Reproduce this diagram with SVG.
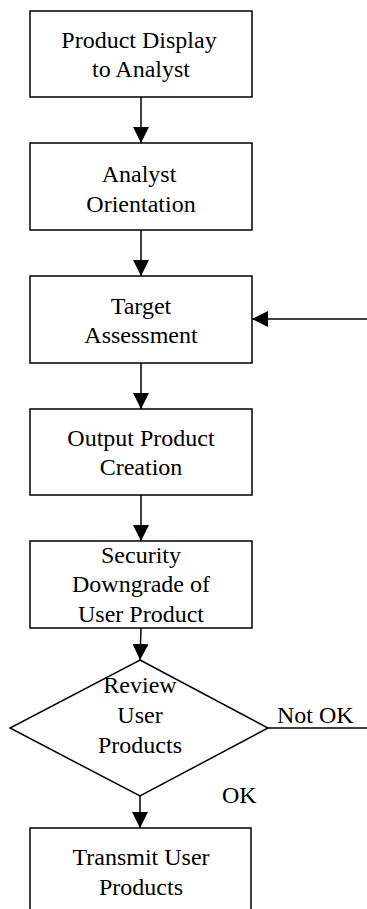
<svg xmlns="http://www.w3.org/2000/svg" width="367" height="909" viewBox="0 0 367 909">
<style>
.n{fill:#fff;stroke:#000;stroke-width:1.5}
.t{font-family:"Liberation Serif","Times New Roman",serif;font-size:24px;fill:#000;text-anchor:middle}
.l{font-family:"Liberation Serif","Times New Roman",serif;font-size:24px;fill:#000}
.c{stroke:#000;stroke-width:1.5;fill:none}
</style>
<defs>
<marker id="ah" markerWidth="16" markerHeight="16" viewBox="0 0 16 16" refX="16" refY="8" orient="auto" markerUnits="userSpaceOnUse">
<path d="M0,0 L16,8 L0,16 Z" fill="#000"/>
</marker>
</defs>
<rect width="367" height="909" fill="#fff"/>
<g id="connectors">
<line class="c" x1="141" y1="97" x2="141" y2="143" marker-end="url(#ah)"/>
<line class="c" x1="141" y1="230" x2="141" y2="276" marker-end="url(#ah)"/>
<line class="c" x1="367" y1="319" x2="252" y2="319" marker-end="url(#ah)"/>
<line class="c" x1="141" y1="363" x2="141" y2="409" marker-end="url(#ah)"/>
<line class="c" x1="141" y1="495" x2="141" y2="541" marker-end="url(#ah)"/>
<line class="c" x1="141" y1="628" x2="140" y2="660" marker-end="url(#ah)"/>
<line class="c" x1="268" y1="728" x2="367" y2="728"/>
<text class="l" x="277" y="723">Not OK</text>
<line class="c" x1="140" y1="796" x2="140" y2="828" marker-end="url(#ah)"/>
<text class="l" x="222" y="803">OK</text>
</g>
<g id="n1">
<rect class="n" x="30" y="11" width="222" height="86"/>
<text class="t" x="139" y="48">Product Display</text>
<text class="t" x="141" y="77">to Analyst</text>
</g>
<g id="n2">
<rect class="n" x="30" y="143" width="222" height="87"/>
<text class="t" x="139" y="182">Analyst</text>
<text class="t" x="141" y="212">Orientation</text>
</g>
<g id="n3">
<rect class="n" x="30" y="276" width="222" height="87"/>
<text class="t" x="141" y="314">Target</text>
<text class="t" x="141" y="343">Assessment</text>
</g>
<g id="n4">
<rect class="n" x="30" y="409" width="222" height="86"/>
<text class="t" x="141" y="446">Output Product</text>
<text class="t" x="141" y="475">Creation</text>
</g>
<g id="n5">
<rect class="n" x="30" y="541" width="222" height="87"/>
<text class="t" x="141" y="563">Security</text>
<text class="t" x="141" y="592">Downgrade of</text>
<text class="t" x="141" y="622">User Product</text>
</g>
<g id="n6">
<polygon class="n" points="140,660 268,728 140,796 10,728"/>
<text class="t" x="140" y="693">Review</text>
<text class="t" x="140" y="723">User</text>
<text class="t" x="140" y="753">Products</text>
</g>
<g id="n7">
<rect class="n" x="30" y="828" width="221" height="100"/>
<text class="t" x="141" y="865">Transmit User</text>
<text class="t" x="141" y="895">Products</text>
</g>
</svg>
